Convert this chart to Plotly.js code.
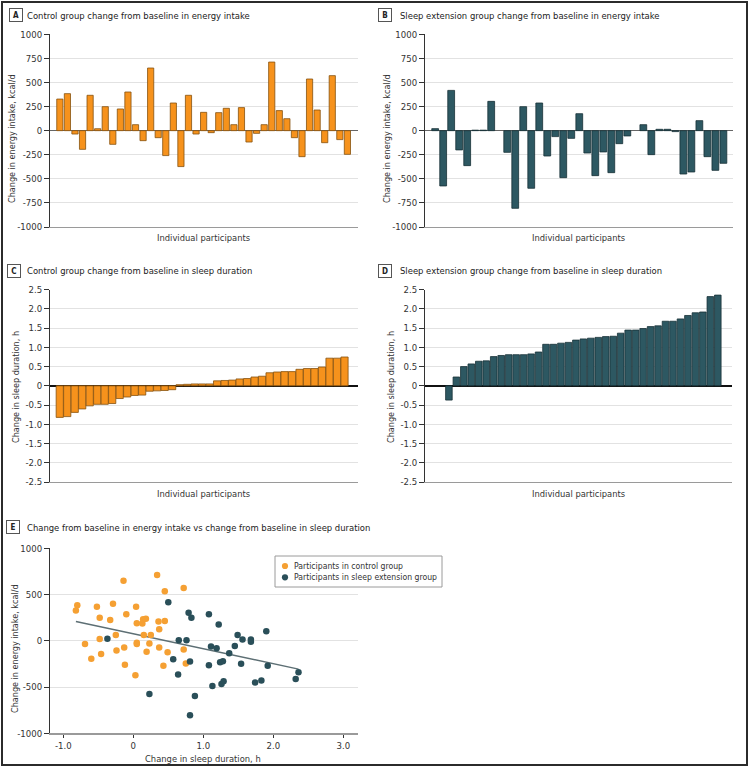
<!DOCTYPE html>
<html><head><meta charset="utf-8">
<script src="https://cdn.plot.ly/plotly-3.0.1.min.js"></script>
<style>
body{margin:0;background:#fff}
#wrap{position:relative;width:750px;height:768px}
#chart{width:750px;height:768px}
#frame{position:absolute;left:1px;top:1px;width:747px;height:765px;border:2px solid #2b2b2b;box-sizing:border-box;pointer-events:none}
</style>
</head><body><div id="wrap"><div id="chart"></div><div id="frame"></div></div>
<script>
// ---- data ----
const controlEnergy = [328,384,-35,-194,367,20,249,-142,225,401,62,-104,650,-73,-259,287,-373,367,-35,190,-21,187,232,62,239,-118,-28,62,712,208,124,-73,-270,536,214,-125,571,-93,-246];
const controlSleep = [-0.82,-0.80,-0.69,-0.60,-0.52,-0.48,-0.48,-0.46,-0.33,-0.29,-0.25,-0.24,-0.14,-0.13,-0.12,-0.10,0.03,0.04,0.05,0.05,0.05,0.13,0.14,0.15,0.18,0.19,0.23,0.25,0.34,0.36,0.37,0.37,0.43,0.45,0.45,0.49,0.72,0.72,0.75];
const extensionEnergy = [21,-574,418,-200,-363,5,5,304,null,-225,-806,249,-598,287,-263,-62,-488,-80,176,-232,-467,-221,-436,-135,-55,null,62,-249,14,14,-10,-450,-429,104,-270,-412,-339];
const extensionSleep = [-0.37,0.23,0.50,0.57,0.64,0.65,0.76,0.79,0.81,0.81,0.81,0.83,0.88,1.08,1.08,1.11,1.13,1.19,1.22,1.24,1.26,1.28,1.29,1.37,1.45,1.45,1.49,1.54,1.56,1.68,1.68,1.74,1.83,1.90,1.92,2.32,2.36];

const energyTicks = [1000,750,500,250,0,-250,-500,-750,-1000];
const energyTickText = ['1000','750','500','250','0','-250','-500','-750','-1000'];
const sleepTicks = [2.5,2.0,1.5,1.0,0.5,0,-0.5,-1.0,-1.5,-2.0,-2.5];
const sleepTickText = ['2.5','2.0','1.5','1.0','0.5','0','-0.5','-1.0','-1.5','-2.0','-2.5'];
const scatterEnergyTicks = [1000,500,0,-500,-1000];
const scatterEnergyTickText = ['1000','500','0','-500','-1000'];
const scatterSleepTicks = [-1,0,1,2,3];
const scatterSleepTickText = ['-1.0','0','1.0','2.0','3.0'];

const panelTitles = [
  'Control group change from baseline in energy intake',
  'Sleep extension group change from baseline in energy intake',
  'Control group change from baseline in sleep duration',
  'Sleep extension group change from baseline in sleep duration',
  'Change from baseline in energy intake vs change from baseline in sleep duration'
];
const panelLetters = ['A','B','C','D','E'];
const legendNames = ['Participants in control group','Participants in sleep extension group'];
const energyAxisTitle = 'Change in energy intake, kcal/d';
const sleepAxisTitle = 'Change in sleep duration, h';
const participantsTitle = 'Individual participants';

// ---- styling ----
const W = 750, H = 768;
const fx = p => p / W;
const fy = p => 1 - p / H;
const FONT = '"DejaVu Sans Condensed","Liberation Sans Narrow",sans-serif';
const ORANGE = '#F6921C', ORANGE_EDGE = '#85520f';
const TEAL = '#2D5862', TEAL_EDGE = '#163036';
const DOT_ORANGE = '#F5A033', DOT_TEAL = '#2A4F59';

const idx = arr => arr.map((_, i) => i + 1);

// least-squares fit over all scatter points
const extPairs = extensionSleep.map((s, i) => [s, extensionEnergy[i]]).filter(p => p[1] !== null);
const allX = controlSleep.concat(extPairs.map(p => p[0]));
const allY = controlEnergy.concat(extPairs.map(p => p[1]));
const n = allX.length;
const mx = allX.reduce((a, b) => a + b, 0) / n;
const my = allY.reduce((a, b) => a + b, 0) / n;
let sxy = 0, sxx = 0;
for (let i = 0; i < n; i++) { sxy += (allX[i] - mx) * (allY[i] - my); sxx += (allX[i] - mx) ** 2; }
const slope = sxy / sxx, intercept = my - slope * mx;
const xmin = Math.min(...allX), xmax = Math.max(...allX);

const traces = [
  {type:'bar', x: idx(controlEnergy), y: controlEnergy, xaxis:'x', yaxis:'y', width:0.82,
   marker:{color:ORANGE, line:{color:ORANGE_EDGE, width:0.8}}, showlegend:false, hoverinfo:'skip'},
  {type:'bar', x: idx(extensionEnergy), y: extensionEnergy, xaxis:'x2', yaxis:'y2', width:0.85,
   marker:{color:TEAL, line:{color:TEAL_EDGE, width:0.8}}, showlegend:false, hoverinfo:'skip'},
  {type:'bar', x: idx(controlSleep), y: controlSleep, xaxis:'x3', yaxis:'y3', width:0.96,
   marker:{color:ORANGE, line:{color:ORANGE_EDGE, width:0.8}}, showlegend:false, hoverinfo:'skip'},
  {type:'bar', x: idx(extensionSleep), y: extensionSleep, xaxis:'x4', yaxis:'y4', width:0.88,
   marker:{color:TEAL, line:{color:TEAL_EDGE, width:0.8}}, showlegend:false, hoverinfo:'skip'},
  {type:'scatter', mode:'lines', x:[xmin, xmax], y:[intercept + slope * xmin, intercept + slope * xmax],
   xaxis:'x5', yaxis:'y5', line:{color:'#5d6f74', width:1.5}, showlegend:false, hoverinfo:'skip'},
  {type:'scatter', mode:'markers', name: legendNames[0], x: controlSleep, y: controlEnergy, xaxis:'x5', yaxis:'y5',
   marker:{color:DOT_ORANGE, size:6.5}, showlegend:false},
  {type:'scatter', mode:'markers', name: legendNames[1], x: extPairs.map(p => p[0]), y: extPairs.map(p => p[1]), xaxis:'x5', yaxis:'y5',
   marker:{color:DOT_TEAL, size:6.5}, showlegend:false}
];

const tickFont = {family:FONT, size:9.5, color:'#333'};
function yAx(dom, range, vals, text, zcol, zw, anchor) {
  return {domain:dom, range:range, tickvals:vals, ticktext:text, ticks:'outside', ticklen:5, tickcolor:'#333',
    tickwidth:1, showline:true, linecolor:'#333', linewidth:1, showgrid:true, gridcolor:'#e2e2e2', gridwidth:1,
    zeroline:true, zerolinecolor:zcol, zerolinewidth:zw, tickfont:tickFont, anchor:anchor, fixedrange:true};
}
function xBar(dom, range, anchor) {
  return {domain:dom, range:range, showticklabels:false, ticks:'', showgrid:false, zeroline:false,
    showline:true, linecolor:'#9a9a9a', linewidth:1.2, anchor:anchor, fixedrange:true};
}

const rowA = [fy(227), fy(34.3)];
const rowC = [fy(482), fy(289.7)];
const rowE = [fy(733.3), fy(548.3)];
const colL = [fx(50), fx(358)];
const colR = [fx(425), fx(733)];

const annotations = [];
const shapes = [];
function letter(t, xpx, ypx) {
  annotations.push({text:'<b>' + t + '</b>', x:fx(xpx), y:fy(ypx), xref:'paper', yref:'paper', xanchor:'center', yanchor:'middle',
    showarrow:false, font:{family:FONT, size:8, color:'#222'}, bordercolor:'#555', borderwidth:1, borderpad:1,
    width:10, height:10, bgcolor:'#fff'});
}
function txt(t, xpx, ypx, opts) {
  annotations.push(Object.assign({text:t, x:fx(xpx), y:fy(ypx), xref:'paper', yref:'paper', showarrow:false,
    xanchor:'left', yanchor:'middle', font:{family:FONT, size:9.4, color:'#222'}}, opts || {}));
}
letter(panelLetters[0], 16, 15.5); txt(panelTitles[0], 25, 15.5);
letter(panelLetters[1], 385, 15.5); txt(panelTitles[1], 398, 15.5);
letter(panelLetters[2], 14, 271); txt(panelTitles[2], 25, 271);
letter(panelLetters[3], 385, 271); txt(panelTitles[3], 398, 271);
letter(panelLetters[4], 13, 527); txt(panelTitles[4], 25, 527);

const axFont = {family:FONT, size:9, color:'#333'};
txt(energyAxisTitle, 12, 139, {xanchor:'center', textangle:-90, font:axFont});
txt(energyAxisTitle, 387, 139, {xanchor:'center', textangle:-90, font:axFont});
txt(sleepAxisTitle, 16, 387, {xanchor:'center', textangle:-90, font:axFont});
txt(sleepAxisTitle, 391, 387, {xanchor:'center', textangle:-90, font:axFont});
txt(energyAxisTitle, 15, 649, {xanchor:'center', textangle:-90, font:axFont});
const xtFont = {family:FONT, size:9.3, color:'#333'};
txt(participantsTitle, 203, 237, {xanchor:'center', font:xtFont});
txt(participantsTitle, 578, 237, {xanchor:'center', font:xtFont});
txt(participantsTitle, 203, 493, {xanchor:'center', font:xtFont});
txt(participantsTitle, 578, 493, {xanchor:'center', font:xtFont});
txt(sleepAxisTitle, 203, 758, {xanchor:'center', font:xtFont});

// legend box for panel E
shapes.push({type:'rect', xref:'paper', yref:'paper', x0:fx(275), x1:fx(442), y0:fy(587), y1:fy(556),
  line:{color:'#9a9a9a', width:1}, fillcolor:'#fff', layer:'above'});
const legendColors = [DOT_ORANGE, DOT_TEAL];
const legendRows = [566, 577.3];
legendNames.forEach((name, i) => {
  const cy = legendRows[i], cx = 285, r = 3.1;
  shapes.push({type:'circle', xref:'paper', yref:'paper', x0:fx(cx - r), x1:fx(cx + r), y0:fy(cy + r), y1:fy(cy - r),
    line:{width:0}, fillcolor:legendColors[i], layer:'above'});
  txt(name, 292, cy, {font:{family:FONT, size:8.6, color:'#333'}});
});

const layout = {
  width:W, height:H, margin:{l:0, r:0, t:0, b:0}, paper_bgcolor:'#fff', plot_bgcolor:'#fff',
  font:{family:FONT, color:'#222'}, showlegend:false, barmode:'overlay',
  xaxis: xBar(colL, [-0.3, 40.4], 'y'),
  yaxis: yAx(rowA, [-1000, 1000], energyTicks, energyTickText, '#666', 1, 'x'),
  xaxis2: xBar(colR, [-0.27, 38.2], 'y2'),
  yaxis2: yAx(rowA, [-1000, 1000], energyTicks, energyTickText, '#666', 1, 'x2'),
  xaxis3: xBar(colL, [-0.3, 40.8], 'y3'),
  yaxis3: yAx(rowC, [-2.5, 2.5], sleepTicks, sleepTickText, '#111', 2, 'x3'),
  xaxis4: xBar([fx(425), fx(732)], [-2.2, 38.9], 'y4'),
  yaxis4: yAx(rowC, [-2.5, 2.5], sleepTicks, sleepTickText, '#111', 2, 'x4'),
  xaxis5: {domain:colL, range:[-1.19, 3.21], tickvals:scatterSleepTicks, ticktext:scatterSleepTickText,
    ticks:'outside', ticklen:3, tickcolor:'#333', showline:true, linecolor:'#9a9a9a', linewidth:1.2,
    showgrid:false, zeroline:false, tickfont:tickFont, anchor:'y5', fixedrange:true},
  yaxis5: yAx(rowE, [-1000, 1000], scatterEnergyTicks, scatterEnergyTickText, '#e2e2e2', 1, 'x5'),
  annotations: annotations,
  shapes: shapes
};

Plotly.newPlot('chart', traces, layout, {displayModeBar:false, staticPlot:true});
</script>
</body></html>
